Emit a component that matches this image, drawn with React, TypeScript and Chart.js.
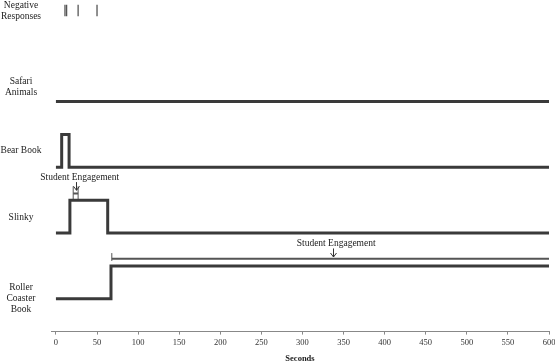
import React, { useEffect, useRef } from "react";
import { Chart, registerables } from "chart.js";

Chart.register(...registerables);

// ---- data ----
const xTickValues = [0, 50, 100, 150, 200, 250, 300, 350, 400, 450, 500, 550, 600];
const rowLabels: string[][] = [
  ["Negative", "Responses"],
  ["Safari", "Animals"],
  ["Bear Book"],
  ["Slinky"],
  ["Roller", "Coaster", "Book"],
];
const rowLabelY = [8.75, 6.45, 4.5, 2.48, 0.0];

const negativeTimes = [11, 13, 27, 50];
const negativeLow = 8.6;
const negativeHigh = 8.95;

const safariX = [0, 600];
const safariY = [6, 6];
const bearX = [0, 7, 7, 16, 16, 600];
const bearY = [4, 4, 5, 5, 4, 4];
const slinkyX = [0, 17, 17, 63, 63, 600];
const slinkyY = [2, 2, 3, 3, 2, 2];
const rollerX = [0, 67, 67, 600];
const rollerY = [0, 0, 1, 1];

const slinkyEngageX = [21, 27];
const slinkyEngageMid = 3.2;
const slinkyEngageLow = 3.0;
const slinkyEngageHigh = 3.42;

const rollerEngageX = [68, 600];
const rollerEngageMid = 1.22;
const rollerEngageLow = 1.15;
const rollerEngageHigh = 1.39;

const noteLabels = ["Student Engagement", "Student Engagement"];
const noteTextX = [29, 341];
const noteTextY = [3.7, 1.67];
const noteArrowX = [24, 337];
const noteArrowFrom = [3.55, 1.53];
const noteArrowTo = [3.3, 1.27];

// ---- helpers ----
const pts = (xs: number[], ys: number[]) => xs.map((x, i) => ({ x, y: ys[i] }));

const LINE = "#3a3a3a";
const THIN = "#555555";
const FONT = '"Liberation Serif", "Times New Roman", serif';

const rowLabelPlugin = {
  id: "rowLabels",
  afterDraw(chart: any) {
    const ctx = chart.ctx;
    const ys = chart.scales.y;
    ctx.save();
    ctx.font = `9.5px ${FONT}`;
    ctx.fillStyle = "#222";
    ctx.textAlign = "center";
    ctx.textBaseline = "middle";
    const lh = 11;
    rowLabels.forEach((lines, i) => {
      const cy = ys.getPixelForValue(rowLabelY[i]);
      const start = cy - ((lines.length - 1) * lh) / 2;
      lines.forEach((ln, j) => ctx.fillText(ln, 21, start + j * lh));
    });
    ctx.restore();
  },
};

const notesPlugin = {
  id: "notes",
  afterDatasetsDraw(chart: any) {
    const ctx = chart.ctx;
    const xs = chart.scales.x;
    const ys = chart.scales.y;
    ctx.save();
    ctx.font = `9.5px ${FONT}`;
    ctx.fillStyle = "#222";
    ctx.textAlign = "center";
    ctx.textBaseline = "middle";
    noteLabels.forEach((label, i) => {
      ctx.fillText(label, xs.getPixelForValue(noteTextX[i]), ys.getPixelForValue(noteTextY[i]));
      const ax = Math.round(xs.getPixelForValue(noteArrowX[i])) + 0.5;
      const y1 = ys.getPixelForValue(noteArrowFrom[i]);
      const y2 = ys.getPixelForValue(noteArrowTo[i]);
      ctx.strokeStyle = "#333";
      ctx.lineWidth = 1;
      ctx.beginPath();
      ctx.moveTo(ax, y1);
      ctx.lineTo(ax, y2);
      ctx.moveTo(ax - 3, y2 - 4);
      ctx.lineTo(ax, y2);
      ctx.lineTo(ax + 3, y2 - 4);
      ctx.stroke();
    });
    ctx.restore();
  },
};

export default function App() {
  const ref = useRef<HTMLCanvasElement | null>(null);

  useEffect(() => {
    if (!ref.current) return;
    Chart.defaults.font.family = FONT;

    const negData: any[] = [];
    negativeTimes.forEach((t) => {
      negData.push({ x: t, y: negativeLow }, { x: t, y: negativeHigh }, { x: t, y: null });
    });

    const slinkyBracket: any[] = [];
    slinkyEngageX.forEach((t) => {
      slinkyBracket.push({ x: t, y: slinkyEngageLow }, { x: t, y: slinkyEngageHigh }, { x: t, y: null });
    });

    const main = (data: any[]) => ({
      data,
      borderColor: LINE,
      borderWidth: 3,
      pointRadius: 0,
      fill: false,
      tension: 0,
      borderJoinStyle: "miter" as const,
      borderCapStyle: "butt" as const,
    });
    const thin = (data: any[], w: number) => ({
      data,
      borderColor: THIN,
      borderWidth: w,
      pointRadius: 0,
      fill: false,
      tension: 0,
      spanGaps: false,
      borderCapStyle: "butt" as const,
    });

    const chart = new Chart(ref.current, {
      type: "line",
      data: {
        datasets: [
          main(pts(rollerX, rollerY)),
          main(pts(slinkyX, slinkyY)),
          main(pts(bearX, bearY)),
          main(pts(safariX, safariY)),
          thin(negData, 1.3),
          thin(slinkyBracket, 1),
          thin(pts(slinkyEngageX, [slinkyEngageMid, slinkyEngageMid]), 2),
          thin(pts(rollerEngageX, [rollerEngageMid, rollerEngageMid]), 2),
          thin(pts([rollerEngageX[0], rollerEngageX[0]], [rollerEngageLow, rollerEngageHigh]), 1),
        ] as any,
      },
      options: {
        responsive: false,
        animation: false,
        events: [],
        layout: { padding: { left: 51, right: 0, top: 3, bottom: 0 } },
        plugins: {
          legend: { display: false },
          tooltip: { enabled: false },
        },
        scales: {
          x: {
            type: "linear",
            min: -6,
            max: 600,
            afterBuildTicks: (scale: any) => {
              scale.ticks = xTickValues.map((v) => ({ value: v }));
            },
            afterFit: (scale: any) => {
              scale.paddingRight = 6;
            },
            grid: {
              display: true,
              drawOnChartArea: false,
              drawTicks: true,
              tickLength: 3,
              color: "#888",
            },
            border: { display: true, color: "#888", width: 1 },
            ticks: {
              color: "#333",
              font: { size: 8.5, family: FONT },
              padding: 3,
              maxRotation: 0,
              autoSkip: false,
            },
            title: {
              display: true,
              text: "Seconds",
              color: "#222",
              font: { size: 8.5, weight: "bold", family: FONT },
              padding: { top: 3, bottom: 0 },
            },
          },
          y: {
            type: "linear",
            min: -1,
            max: 9,
            display: false,
          },
        },
      } as any,
      plugins: [rowLabelPlugin, notesPlugin],
    });
    return () => chart.destroy();
  }, []);

  return (
    <div style={{ position: "fixed", left: 0, top: 0, width: 555, height: 364, background: "#fff" }}>
      <canvas ref={ref} width={555} height={364} />
    </div>
  );
}
